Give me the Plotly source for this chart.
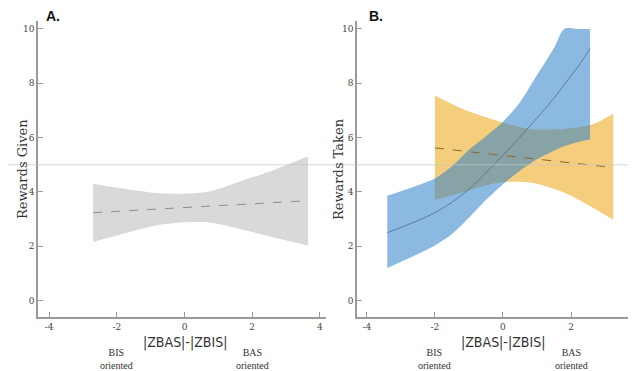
import plotly.graph_objects as go

# ---- Panel A: Rewards Given ----
a_x = [-2.7, -1.7, -0.7, 0.1, 0.8, 1.7, 2.7, 3.65]
a_upper = [4.30, 4.10, 3.95, 3.94, 4.04, 4.41, 4.84, 5.31]
a_lower = [2.16, 2.50, 2.80, 2.89, 2.87, 2.62, 2.31, 2.03]
a_mean_x = [-2.7, 3.65]
a_mean_y = [3.24, 3.68]

# ---- Panel B: Rewards Taken (blue series) ----
b_x = [-3.4, -2.5, -2.0, -1.5, -1.0, -0.5, 0.0, 0.5, 1.0, 1.5, 1.8, 2.2, 2.56]
b_upper = [3.86, 4.25, 4.50, 4.95, 5.55, 6.05, 6.58, 7.30, 8.30, 9.30, 10.0, 10.0, 10.0]
b_lower = [1.20, 1.72, 2.03, 2.45, 3.05, 3.70, 4.28, 4.78, 5.20, 5.52, 5.68, 5.83, 5.93]
b_mean = [2.50, 2.95, 3.24, 3.62, 4.10, 4.70, 5.35, 6.02, 6.72, 7.45, 7.95, 8.60, 9.28]

# ---- Panel B: Rewards Taken (yellow series) ----
y_x = [-2.0, -1.2, -0.2, 0.8, 1.8, 2.6, 3.24]
y_upper = [7.55, 7.06, 6.63, 6.32, 6.32, 6.47, 6.88]
y_lower = [3.70, 3.98, 4.33, 4.35, 3.98, 3.45, 2.98]
y_mean_x = [-2.0, 3.24]
y_mean_y = [5.62, 4.90]

y_ticks = [0, 2, 4, 6, 8, 10]
x_ticks = [-4, -2, 0, 2, 4]
x_ticktext = ["-4", "-2", "0", "2", "4"]
ref_y = 5

# page body has an 8px margin; size the figure to fill the remaining window
OFF = 8
W, H = 636 - OFF, 371 - OFF
fig = go.Figure()


def band(x, up, lo, color, xa, ya):
    fig.add_trace(go.Scatter(x=x, y=lo, mode="lines", line=dict(width=0, shape="spline", smoothing=0.8),
                             hoverinfo="skip", showlegend=False, xaxis=xa, yaxis=ya))
    fig.add_trace(go.Scatter(x=x, y=up, mode="lines", line=dict(width=0, shape="spline", smoothing=0.8),
                             fill="tonexty", fillcolor=color,
                             hoverinfo="skip", showlegend=False, xaxis=xa, yaxis=ya))


band(a_x, a_upper, a_lower, "#d9d9d9", "x", "y")
fig.add_trace(go.Scatter(x=a_mean_x, y=a_mean_y, mode="lines",
                         line=dict(color="#8c8c8c", width=1, dash="dash"),
                         showlegend=False, xaxis="x", yaxis="y"))

band(y_x, y_upper, y_lower, "rgba(240,190,80,0.75)", "x2", "y2")
band(b_x, b_upper, b_lower, "rgba(46,128,200,0.55)", "x2", "y2")
fig.add_trace(go.Scatter(x=y_mean_x, y=y_mean_y, mode="lines",
                         line=dict(color="#8a6630", width=1, dash="dash"),
                         showlegend=False, xaxis="x2", yaxis="y2"))
fig.add_trace(go.Scatter(x=b_x, y=b_mean, mode="lines",
                         line=dict(color="#4d6e8c", width=0.8, shape="spline", smoothing=1.0),
                         showlegend=False, xaxis="x2", yaxis="y2"))

axis_common = dict(showgrid=False, zeroline=False, showline=True, linecolor="#9a9a9a",
                   linewidth=1.5, ticks="inside", ticklen=5, tickcolor="#9a9a9a",
                   tickfont=dict(family="DejaVu Serif", size=9, color="#444"))


def px(p):
    return (p - OFF) / W


def py(p):
    return 1 - (p - OFF) / H


xdom_a = [px(38), px(326)]
xdom_b = [px(357), 1.0]
ydom = [py(317), py(21)]

fig.update_layout(
    width=W, height=H, margin=dict(l=0, r=0, t=0, b=0),
    plot_bgcolor="white", paper_bgcolor="white",
    xaxis=dict(domain=xdom_a, range=[-4.33, 4.18], tickvals=x_ticks, ticktext=x_ticktext,
               anchor="y", **axis_common),
    yaxis=dict(domain=ydom, range=[-0.6, 10.29], tickvals=y_ticks, anchor="x", **axis_common),
    xaxis2=dict(domain=xdom_b, range=[-4.29, 3.91], tickvals=x_ticks, ticktext=x_ticktext,
                anchor="y2", **axis_common),
    yaxis2=dict(domain=ydom, range=[-0.6, 10.29], tickvals=y_ticks, anchor="x2", **axis_common),
)

# reference line across the whole figure
fig.add_shape(type="line", xref="paper", yref="y", x0=0, x1=1, y0=ref_y, y1=ref_y,
              line=dict(color="rgba(200,200,200,0.7)", width=1), layer="above")

ann = []
serif = "DejaVu Serif"
for px_title, label in [(22, "Rewards Given"), (338, "Rewards Taken")]:
    ann.append(dict(x=px(px_title), y=0.5 * (ydom[0] + ydom[1]), xref="paper", yref="paper",
                    xanchor="center", yanchor="middle",
                    text=label, textangle=-90, showarrow=False,
                    font=dict(family=serif, size=13, color="#333")))
for pxx, lab in [(53, "A."), (376, "B.")]:
    ann.append(dict(x=px(pxx), y=py(16), xref="paper", yref="paper", text="<b>%s</b>" % lab,
                    xanchor="center", yanchor="middle",
                    showarrow=False, font=dict(family="Liberation Sans", size=14, color="#111")))
for xr in ["x", "x2"]:
    ann.append(dict(x=0, y=py(342), xref=xr, yref="paper", text="|ZBAS|-|ZBIS|",
                    xanchor="center", yanchor="middle", showarrow=False,
                    font=dict(family="Liberation Sans Narrow, DejaVu Sans Condensed, sans-serif",
                              size=14, color="#333")))
    ann.append(dict(x=-2, y=py(358.5), xref=xr, yref="paper", text="BIS<br>oriented",
                    xanchor="center", yanchor="middle", showarrow=False,
                    font=dict(family="Liberation Serif", size=10, color="#333")))
    ann.append(dict(x=2, y=py(358.5), xref=xr, yref="paper", text="BAS<br>oriented",
                    xanchor="center", yanchor="middle", showarrow=False,
                    font=dict(family="Liberation Serif", size=10, color="#333")))
fig.update_layout(annotations=ann)

fig.write_html("out.html")
